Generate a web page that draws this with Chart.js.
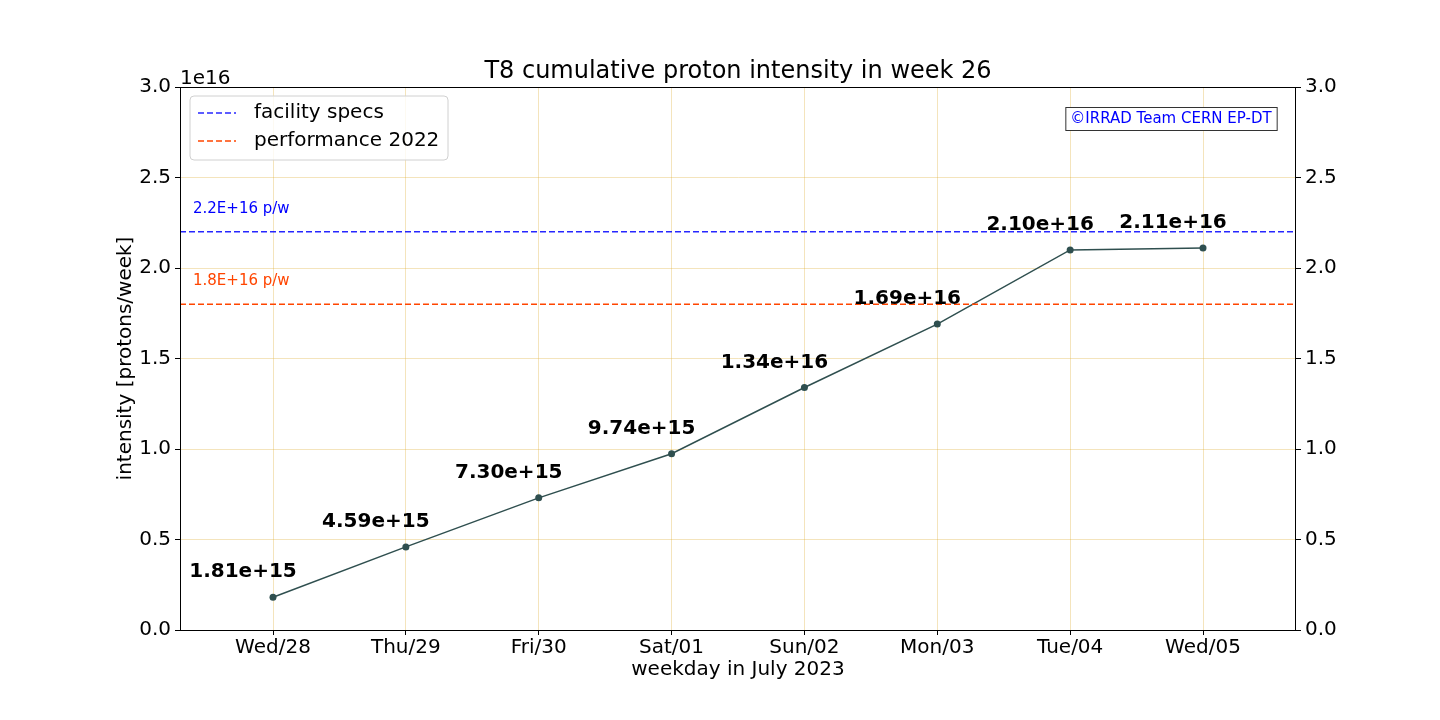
<!DOCTYPE html>
<html>
<head>
<meta charset="utf-8">
<script src="https://cdn.jsdelivr.net/npm/chart.js@4.4.0/dist/chart.umd.min.js"></script>
<style>
  html, body { margin: 0; padding: 0; background: #fff; }
  #wrap { width: 1440px; height: 720px; }
</style>
</head>
<body>
<div id="wrap"><canvas id="protonChart" width="1440" height="720"></canvas></div>
<script>
const days = ['Wed/28', 'Thu/29', 'Fri/30', 'Sat/01', 'Sun/02', 'Mon/03', 'Tue/04', 'Wed/05'];
const intensity = [1.81e15, 4.59e15, 7.30e15, 9.74e15, 1.34e16, 1.69e16, 2.10e16, 2.11e16];
const facilitySpec = 2.2e16;
const performance2022 = 1.8e16;
const yTicks = [0, 0.5e16, 1.0e16, 1.5e16, 2.0e16, 2.5e16, 3.0e16];

const FONT = "'DejaVu Sans', sans-serif";
const gridColor = 'rgba(218,165,32,0.3)';
const lineColor = '#2f4f4f';
const blue = 'rgba(0,0,255,0.85)';
const orange = '#ff4500';

const xMin = -0.7, xMax = days.length - 1 + 0.7;

// extra drawing: frame, title, offset text, data labels, legend, notes
const extras = {
    id: 'extras',
    afterDatasetsDraw(chart) {
        const ctx = chart.ctx;
        const a = chart.chartArea;
        ctx.save();
        ctx.strokeStyle = '#000';
        ctx.lineWidth = 1;
        ctx.strokeRect(a.left + 0.5, a.top + 0.5, a.right - a.left - 1, a.bottom - a.top);

        // title
        ctx.fillStyle = '#000';
        ctx.font = '24px ' + FONT;
        ctx.textAlign = 'center';
        ctx.textBaseline = 'middle';
        ctx.fillText('T8 cumulative proton intensity in week 26', (a.left + a.right) / 2, 72);

        // axis offset text
        ctx.font = '20px ' + FONT;
        ctx.textAlign = 'left';
        ctx.textBaseline = 'alphabetic';
        ctx.fillText('1e16', a.left, 84);

        // data labels
        const meta = chart.getDatasetMeta(2);
        ctx.font = 'bold 20px ' + FONT;
        ctx.textAlign = 'center';
        ctx.textBaseline = 'middle';
        meta.data.forEach((pt, i) => {
            ctx.fillText(intensity[i].toExponential(2), pt.x - 30, pt.y - 25);
        });

        // line labels
        const ys = chart.scales.y;
        ctx.font = '15px ' + FONT;
        ctx.textAlign = 'left';
        ctx.fillStyle = 'blue';
        ctx.fillText('2.2E+16 p/w', a.left + 13, ys.getPixelForValue(facilitySpec) - 23);
        ctx.fillStyle = orange;
        ctx.fillText('1.8E+16 p/w', a.left + 13, ys.getPixelForValue(performance2022) - 23);

        // copyright box
        ctx.font = '15px ' + FONT;
        ctx.textAlign = 'center';
        const note = '\u00A9IRRAD Team CERN EP-DT';
        const w = ctx.measureText(note).width + 10;
        const cx = 1171;
        ctx.fillStyle = '#fff';
        ctx.fillRect(cx - w / 2, 107, w, 23);
        ctx.strokeStyle = '#333';
        ctx.strokeRect(cx - w / 2 + 0.5, 107.5, w, 23);
        ctx.fillStyle = 'blue';
        ctx.fillText(note, cx, 119);

        // legend
        const lx = 190, ly = 96, lw = 258, lh = 64, r = 4;
        ctx.beginPath();
        ctx.moveTo(lx + r, ly);
        ctx.arcTo(lx + lw, ly, lx + lw, ly + lh, r);
        ctx.arcTo(lx + lw, ly + lh, lx, ly + lh, r);
        ctx.arcTo(lx, ly + lh, lx, ly, r);
        ctx.arcTo(lx, ly, lx + lw, ly, r);
        ctx.closePath();
        ctx.fillStyle = 'rgba(255,255,255,0.8)';
        ctx.fill();
        ctx.strokeStyle = '#d0d0d0';
        ctx.stroke();
        const items = [['facility specs', blue, 113], ['performance 2022', orange, 141]];
        ctx.font = '20px ' + FONT;
        ctx.textAlign = 'left';
        items.forEach(([label, col, y]) => {
            ctx.strokeStyle = col;
            ctx.lineWidth = 1.5;
            ctx.setLineDash([6, 3]);
            ctx.beginPath();
            ctx.moveTo(198, y);
            ctx.lineTo(236, y);
            ctx.stroke();
            ctx.setLineDash([]);
            ctx.fillStyle = '#000';
            ctx.fillText(label, 254, y);
        });
        ctx.restore();
    }
};

const tickStyle = { color: '#000', font: { family: FONT, size: 20 } };

const config = {
    type: 'line',
    data: {
        datasets: [
            {
                label: 'facility specs',
                data: [{ x: xMin, y: facilitySpec }, { x: xMax, y: facilitySpec }],
                borderColor: blue,
                borderWidth: 1.5,
                borderDash: [6, 3],
                pointRadius: 0
            },
            {
                label: 'performance 2022',
                data: [{ x: xMin, y: performance2022 }, { x: xMax, y: performance2022 }],
                borderColor: orange,
                borderWidth: 1.5,
                borderDash: [6, 3],
                pointRadius: 0
            },
            {
                label: 'intensity',
                data: intensity.map((v, i) => ({ x: i, y: v })),
                borderColor: lineColor,
                backgroundColor: lineColor,
                borderWidth: 1.5,
                pointRadius: 3.5,
                pointBorderWidth: 0,
                tension: 0
            }
        ]
    },
    options: {
        responsive: false,
        animation: false,
        layout: { padding: { top: 87, left: 0, right: 0, bottom: 0 } },
        plugins: {
            legend: { display: false },
            tooltip: { enabled: false }
        },
        scales: {
            x: {
                type: 'linear',
                min: xMin,
                max: xMax,
                afterBuildTicks: s => { s.ticks = days.map((d, i) => ({ value: i })); },
                afterFit: s => { s.height = 90; },
                ticks: { ...tickStyle, padding: 1, maxRotation: 0, callback: v => days[v] },
                grid: { color: gridColor, tickColor: '#000', tickLength: 5 },
                border: { color: '#000' },
                title: {
                    display: true, text: 'weekday in July 2023', color: '#000',
                    font: { family: FONT, size: 20 }, padding: { bottom: 38 }
                }
            },
            y: {
                position: 'left',
                min: 0,
                max: 3e16,
                afterBuildTicks: s => { s.ticks = yTicks.map(v => ({ value: v })); },
                afterFit: s => { s.width = 180; },
                ticks: { ...tickStyle, padding: 4, callback: v => (v / 1e16).toFixed(1) },
                grid: { color: gridColor, tickColor: '#000', tickLength: 5 },
                border: { color: '#000' },
                title: {
                    display: true, text: 'intensity [protons/week]', color: '#000',
                    font: { family: FONT, size: 20 }, padding: { top: 114 }
                }
            },
            y2: {
                position: 'right',
                min: 0,
                max: 3e16,
                afterBuildTicks: s => { s.ticks = yTicks.map(v => ({ value: v })); },
                afterFit: s => { s.width = 144; },
                ticks: { ...tickStyle, padding: 4, callback: v => (v / 1e16).toFixed(1) },
                grid: { drawOnChartArea: false, tickColor: '#000', tickLength: 5 },
                border: { display: false }
            }
        }
    },
    plugins: [extras]
};

const ctx = document.getElementById('protonChart').getContext('2d');
const protonChart = new Chart(ctx, config);
</script>
</body>
</html>
